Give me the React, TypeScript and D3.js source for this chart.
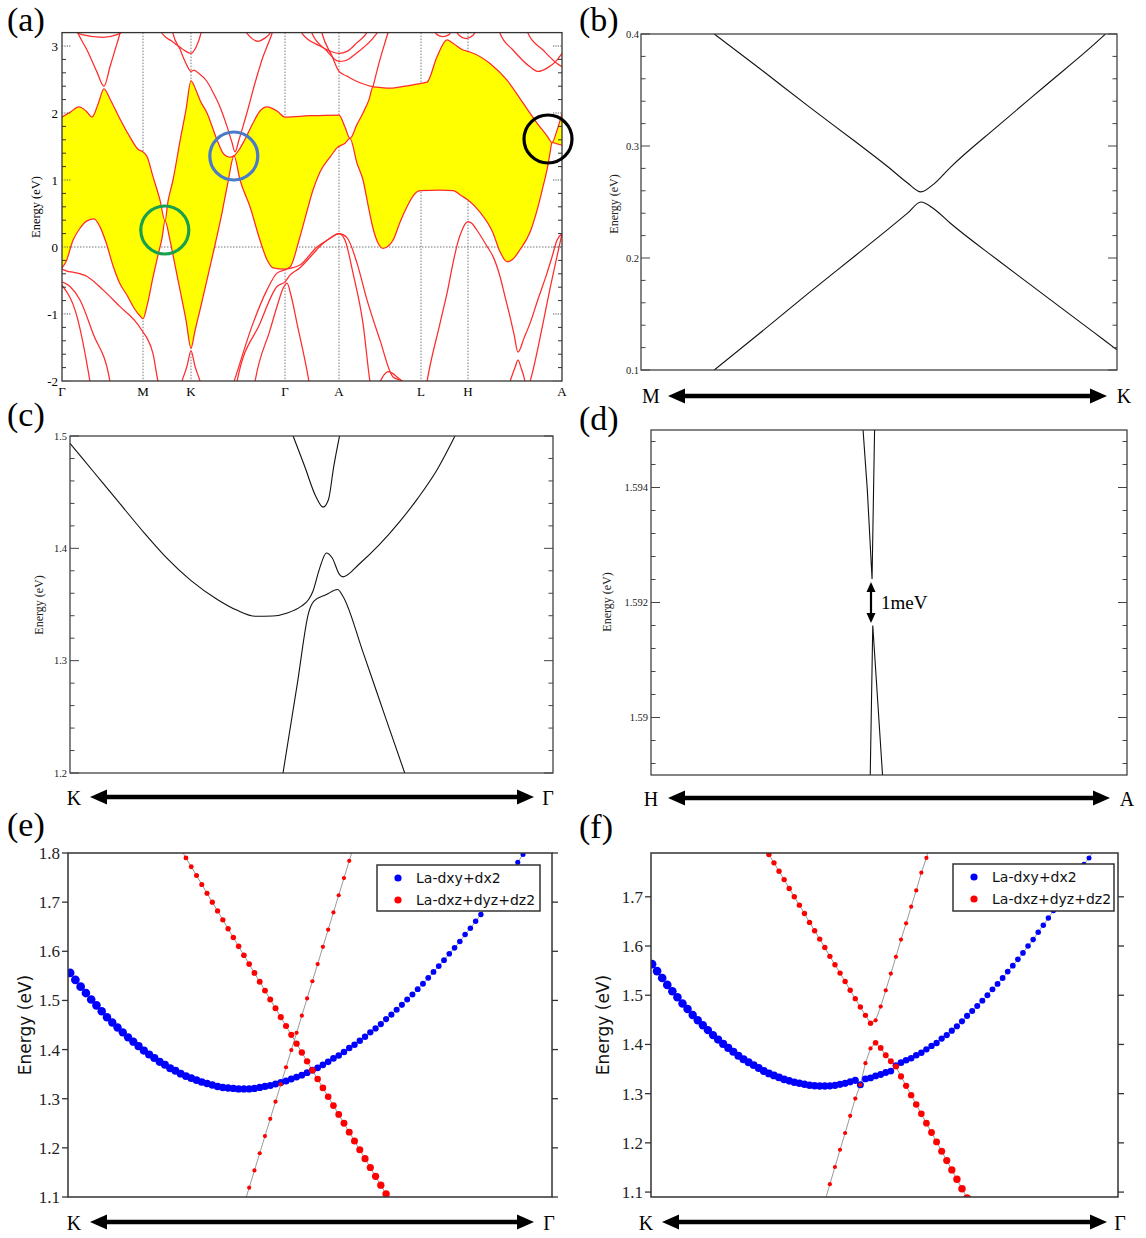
import React from "react";
import * as d3 from "d3";

type P = [number, number];

const SERIF = "'Liberation Serif','Times New Roman',Times,serif";
const SANS = "'DejaVu Sans','Liberation Sans',sans-serif";

// ---------------- Panel (a): band structure along the path ----------------
const aKpts = [0, 81, 129, 223, 277, 359, 406, 500];
const aKlabels = ["Γ", "M", "K", "Γ", "A", "L", "H", "A"];
const aYticks = [-2, -1, 0, 1, 2, 3];

const aUpper: P[] = [
  [0, 1.94], [8, 2.01], [17, 2.09], [24, 2.03], [30, 1.94], [36, 2.13], [42, 2.36], [48, 2.21],
  [58, 1.91], [68, 1.64], [76, 1.46], [81, 1.42], [85, 1.35], [91, 1.05], [98, 0.7], [103, 0.39],
  [106, 0.68], [111, 1.0], [118, 1.58], [124, 2.05], [129, 2.48], [134, 2.34], [138, 2.19], [145, 2.0],
  [155, 1.6], [161, 1.4], [165, 1.35], [168, 1.34], [172, 1.36], [177, 1.45], [181, 1.55], [186, 1.7],
  [191, 1.85], [198, 2.03], [205, 2.09], [210, 2.07], [215, 2.03], [223, 1.94], [248, 1.96], [277, 1.97],
  [283, 1.79], [288, 1.62], [295, 1.83], [301, 2.0], [307, 2.2], [311, 2.39], [328, 2.37], [343, 2.4],
  [358, 2.44], [365, 2.46], [375, 2.84], [385, 3.09], [391, 3.04], [401, 2.94], [408, 2.91], [428, 2.74],
  [445, 2.49], [461, 2.15], [475, 1.85], [485, 1.66], [490, 1.56], [495, 1.74], [500, 1.99],
];

const aLower: P[] = [
  [0, -0.31], [4, -0.22], [11, 0.1], [18, 0.28], [25, 0.39], [32, 0.42], [38, 0.3], [44, 0.07],
  [51, -0.28], [58, -0.55], [65, -0.72], [72, -0.91], [78, -1.03], [81, -1.07], [85, -0.88], [91, -0.45],
  [96, -0.12], [100, 0.13], [103, 0.39], [108, 0.1], [113, -0.27], [118, -0.64], [124, -1.09], [129, -1.51],
  [133, -1.25], [138, -0.94], [145, -0.49], [153, 0.03], [160, 0.51], [166, 0.97], [172, 1.36], [178, 1.0],
  [188, 0.6], [198, 0.1], [205, -0.19], [211, -0.31], [223, -0.33], [228, -0.3], [237, 0.1], [244, 0.48],
  [251, 0.85], [258, 1.12], [268, 1.34], [275, 1.48], [283, 1.55], [288, 1.62], [295, 1.25], [301, 1.0],
  [306, 0.63], [311, 0.28], [316, 0.06], [321, -0.02], [326, 0.01], [331, 0.1], [338, 0.37], [345, 0.6],
  [351, 0.76], [358, 0.84], [378, 0.85], [391, 0.84], [400, 0.76], [406, 0.7], [418, 0.52], [431, 0.21],
  [438, -0.07], [445, -0.22], [451, -0.18], [458, -0.04], [468, 0.22], [476, 0.6], [481, 0.9], [485, 1.15],
  [488, 1.4], [490, 1.56], [495, 1.54], [500, 1.52],
];

const aBands: P[][] = [
  [[8, 3.26], [20, 3.17], [41, 3.13], [55, 3.17], [66, 3.26]],
  [[14, 3.26], [16, 3.19], [25, 2.94], [35, 2.61], [42, 2.4], [48, 2.69], [53, 2.94], [58, 3.19], [59, 3.25]],
  [[99, 3.25], [100, 3.19], [110, 3.07], [120, 2.96], [129, 2.89], [134, 2.98], [139, 3.19], [140, 3.25]],
  [[110, 3.26], [111, 3.19], [118, 2.95], [124, 2.74], [129, 2.62], [132, 2.64], [136, 2.6], [145, 2.47],
   [152, 2.28], [158, 2.09], [165, 1.8], [170, 1.56], [173, 1.42], [177, 1.6], [181, 1.8], [186, 2.06],
   [191, 2.34], [196, 2.6], [201, 2.84], [206, 3.03], [210, 3.19], [211, 3.25]],
  [[182, 3.25], [185, 3.19], [190, 3.11], [196, 3.07], [202, 3.11], [208, 3.19], [210, 3.25]],
  [[0, -0.33], [5, -0.36], [12, -0.38], [25, -0.44], [41, -0.64], [58, -0.89], [75, -1.14], [81, -1.27],
   [85, -1.36], [91, -1.59], [96, -2.0], [98, -2.1]],
  [[0, -0.52], [8, -0.59], [18, -0.79], [31, -1.29], [48, -2.01], [49, -2.1]],
  [[0, -0.57], [15, -1.04], [28, -2.01], [29, -2.1]],
  [[118, -2.1], [120, -2.0], [125, -1.78], [129, -1.55], [133, -1.78], [138, -2.0], [140, -2.1]],
  [[170, -2.1], [172, -2.01], [191, -1.14], [205, -0.64], [215, -0.39], [223, -0.34], [238, -0.27],
   [255, 0.0], [265, 0.1], [277, 0.2], [285, 0.14], [295, -0.24], [305, -0.79], [318, -1.39], [331, -1.94],
   [341, -2.01], [343, -2.1]],
  [[174, -2.1], [175, -2.01], [198, -1.14], [215, -0.59], [223, -0.52], [228, -0.42], [238, -0.31],
   [250, -0.12], [260, 0.04], [270, 0.15], [277, 0.2], [283, 0.1], [291, -0.39], [301, -1.14], [308, -2.01],
   [309, -2.1]],
  [[192, -2.1], [193, -2.01], [208, -1.24], [216, -0.84], [221, -0.62], [225, -0.54], [229, -0.72],
   [235, -1.14], [247, -2.01], [248, -2.1]],
  [[364, -2.1], [365, -2.01], [378, -1.14], [386, -0.62], [391, -0.24], [396, 0.08], [400, 0.25], [403, 0.34],
   [406, 0.38], [410, 0.35], [415, 0.25], [425, 0.01], [431, -0.14], [438, -0.44], [443, -0.74], [448, -1.04],
   [452, -1.3], [456, -1.57], [462, -1.36], [468, -1.14], [476, -0.78], [485, -0.39], [490, -0.15],
   [495, 0.1], [500, 0.2]],
  [[446, -2.1], [448, -2.01], [453, -1.8], [456, -1.69], [459, -1.8], [463, -2.01], [464, -2.1]],
  [[466, -2.1], [468, -2.01], [481, -1.14], [488, -0.62], [495, -0.14], [500, 0.2]],
  [[318, -2.01], [322, -1.91], [326, -1.86], [331, -1.89], [335, -1.94], [341, -2.01]],
  [[239, 3.25], [240, 3.19], [258, 3.0], [277, 2.89], [285, 2.92], [295, 3.05], [305, 3.2], [307, 3.25]],
  [[249, 3.25], [250, 3.19], [264, 2.94], [277, 2.77], [283, 2.78], [295, 2.9], [310, 3.1], [318, 3.25]],
  [[259, 3.25], [260, 3.19], [270, 2.85], [277, 2.62], [285, 2.55], [295, 2.47], [311, 2.39]],
  [[371, 3.25], [375, 3.17], [381, 3.14], [387, 3.17], [390, 3.25]],
  [[393, 3.25], [397, 3.16], [404, 3.11], [411, 3.16], [415, 3.25]],
  [[437, 3.25], [438, 3.19], [451, 2.94], [468, 2.69], [476, 2.62], [485, 2.67], [495, 2.79], [500, 2.89]],
  [[465, 3.25], [466, 3.19], [481, 2.94], [495, 2.74], [500, 2.69]],
  [[311, 2.39], [318, 2.8], [324, 3.1], [327, 3.25]],
];

const aCircles = [
  { k: 102.8, E: 0.254, color: "#19a04f" },
  { k: 171.8, E: 1.358, color: "#4a7bc8" },
  { k: 486, E: 1.612, color: "#000000" },
];

// ---------------- Panel (b): M -> K zoom ----------------
const bYticks = [0.1, 0.2, 0.3, 0.4];
const bUpper: P[] = [
  [0.154, 0.4], [0.25, 0.369], [0.35, 0.336], [0.45, 0.304], [0.52, 0.281], [0.56, 0.267], [0.588, 0.259],
  [0.615, 0.266], [0.65, 0.281], [0.75, 0.318], [0.85, 0.354], [0.95, 0.39], [0.976, 0.4],
];
const bLower: P[] = [
  [0.154, 0.1], [0.25, 0.133], [0.35, 0.168], [0.45, 0.202], [0.52, 0.226], [0.56, 0.24], [0.588, 0.25],
  [0.615, 0.244], [0.65, 0.231], [0.75, 0.198], [0.85, 0.166], [0.95, 0.134], [1.0, 0.118],
];

// ---------------- Panel (c): K -> Γ zoom ----------------
const cYticks = [1.2, 1.3, 1.4, 1.5];
const cBand1: P[] = [
  [0, 1.4935], [0.05, 1.4675], [0.1, 1.4415], [0.154, 1.4136], [0.2, 1.3915], [0.25, 1.3715],
  [0.305, 1.3545], [0.345, 1.345], [0.384, 1.3395], [0.42, 1.3398], [0.45, 1.3425], [0.479, 1.3485],
  [0.494, 1.3544], [0.503, 1.3618], [0.516, 1.3811], [0.531, 1.3959], [0.543, 1.3914], [0.558, 1.3766],
  [0.565, 1.3746], [0.6, 1.3865], [0.64, 1.403], [0.683, 1.424], [0.72, 1.4445], [0.76, 1.47], [0.797, 1.5],
];
const cBand2: P[] = [
  [0.462, 1.5], [0.486, 1.4728], [0.509, 1.4462], [0.524, 1.4367], [0.535, 1.4432], [0.546, 1.4728], [0.558, 1.5],
];
const cBand3: P[] = [
  [0.441, 1.2], [0.471, 1.2805], [0.494, 1.3426], [0.505, 1.353], [0.531, 1.3589], [0.554, 1.3633],
  [0.565, 1.3574], [0.607, 1.3071], [0.652, 1.2509], [0.693, 1.2],
];

// ---------------- Panel (d): H -> A zoom ----------------
const dYticks = [1.59, 1.592, 1.594];
const dYlabels = ["1.59", "1.592", "1.594"];
const dUpper: P[] = [[0.4455, 1.595], [0.4545, 1.59395], [0.4644, 1.59241], [0.4697, 1.595]];
const dLower: P[] = [[0.4606, 1.589], [0.4659, 1.5916], [0.4864, 1.589]];

// ---------------- Panels (e), (f): orbital-projected bands ----------------
const eYticks = [1.1, 1.2, 1.3, 1.4, 1.5, 1.6, 1.7, 1.8];
const fYticks = [1.1, 1.2, 1.3, 1.4, 1.5, 1.6, 1.7];
const legendNames = ["La-dxy+dx2", "La-dxz+dyz+dz2"];

const eBlueStart = 0;
const eBlue = [
  1.556, 1.542, 1.528, 1.515, 1.502, 1.49, 1.478, 1.466, 1.455, 1.445, 1.435, 1.425, 1.416, 1.407, 1.398,
  1.39, 1.383, 1.375, 1.369, 1.362, 1.357, 1.351, 1.346, 1.342, 1.338, 1.334, 1.331, 1.328, 1.325, 1.323,
  1.322, 1.321, 1.32, 1.32, 1.32, 1.321, 1.323, 1.325, 1.327, 1.33, 1.333, 1.336, 1.34, 1.344, 1.348, 1.353,
  1.358, 1.363, 1.369, 1.375, 1.382, 1.388, 1.395, 1.403, 1.41, 1.418, 1.426, 1.435, 1.443, 1.452, 1.462,
  1.471, 1.481, 1.491, 1.502, 1.512, 1.523, 1.534, 1.546, 1.558, 1.57, 1.582, 1.595, 1.607, 1.62, 1.634,
  1.647, 1.661, 1.675, 1.69, 1.704, 1.719, 1.734, 1.75, 1.765, 1.781, 1.797, 1.813,
];
const eRedAStart = 21;
const eRedA = [
  1.808, 1.79, 1.772, 1.754, 1.736, 1.718, 1.7, 1.682, 1.664, 1.646, 1.628, 1.61, 1.592, 1.574, 1.556, 1.538,
  1.52, 1.502, 1.484, 1.466, 1.448, 1.43, 1.412, 1.394, 1.376, 1.358, 1.34, 1.322, 1.304, 1.286, 1.268, 1.25,
  1.232, 1.214, 1.196, 1.178, 1.16, 1.142, 1.124, 1.106, 1.088,
];
const eRedBStart = 33;
const eRedB = [
  1.084, 1.119, 1.154, 1.189, 1.224, 1.259, 1.294, 1.329, 1.364, 1.399, 1.434, 1.469, 1.504, 1.539, 1.574,
  1.609, 1.644, 1.679, 1.714, 1.749, 1.784, 1.819,
];

const fBlueStart = 0;
const fBlue = [
  1.563, 1.549, 1.535, 1.521, 1.508, 1.496, 1.483, 1.472, 1.46, 1.449, 1.439, 1.429, 1.419, 1.41, 1.401,
  1.393, 1.385, 1.377, 1.37, 1.364, 1.358, 1.352, 1.346, 1.341, 1.337, 1.333, 1.329, 1.326, 1.323, 1.321,
  1.319, 1.317, 1.316, 1.3155, 1.3155, 1.316, 1.317, 1.319, 1.321, 1.324, 1.327, 1.318, 1.33, 1.332, 1.336,
  1.339, 1.343, 1.346, 1.357, 1.363, 1.368, 1.372, 1.378, 1.383, 1.39, 1.397, 1.403, 1.412, 1.419, 1.428,
  1.437, 1.447, 1.458, 1.468, 1.478, 1.489, 1.5, 1.512, 1.523, 1.535, 1.548, 1.56, 1.573, 1.586, 1.6, 1.613,
  1.628, 1.642, 1.657, 1.672, 1.687, 1.703, 1.718, 1.734, 1.75, 1.766, 1.779, 1.795,
];
const fRedAStart = 22;
const fRedA = [
  1.803, 1.786, 1.769, 1.752, 1.735, 1.717, 1.7, 1.683, 1.666, 1.648, 1.631, 1.614, 1.597, 1.579, 1.562,
  1.545, 1.528, 1.51, 1.493, 1.476, 1.459, 1.443, 1.449, 1.477, 1.51, 1.544, 1.578, 1.613, 1.646, 1.68,
  1.713, 1.749, 1.779, 1.812,
];
const fRedBStart = 34;
const fRedB = [
  1.081, 1.116, 1.151, 1.186, 1.22, 1.255, 1.29, 1.318, 1.362, 1.392, 1.4035, 1.393, 1.378, 1.366, 1.355,
  1.335, 1.316, 1.297, 1.278, 1.259, 1.24, 1.221, 1.202, 1.183, 1.164, 1.145, 1.126, 1.107, 1.088,
];

// ---------------- helpers ----------------
function DoubleArrowH({ x1, x2, y }: { x1: number; x2: number; y: number }) {
  const L = 17, h = 7.5;
  return (
    <g>
      <line x1={x1 + L - 3} x2={x2 - L + 3} y1={y} y2={y} stroke="#000" strokeWidth={4.5} />
      <polygon points={`${x1},${y} ${x1 + L},${y - h} ${x1 + L},${y + h}`} fill="#000" />
      <polygon points={`${x2},${y} ${x2 - L},${y - h} ${x2 - L},${y + h}`} fill="#000" />
    </g>
  );
}

function PathLabels({ left, right, xl, xr, y, ay, arrowL, arrowR }: any) {
  return (
    <g fontFamily={SERIF} fontSize={20}>
      <text x={xl} y={y} textAnchor="middle">{left}</text>
      <text x={xr} y={y} textAnchor="middle">{right}</text>
      <DoubleArrowH x1={arrowL} x2={arrowR} y={ay} />
    </g>
  );
}

function PanelA() {
  const l = 62, r = 562, t = 32.6, b = 381;
  const x = d3.scaleLinear().domain([0, 500]).range([l, r]);
  const y = d3.scaleLinear().domain([-2, 3.2]).range([b, t]);
  const line = d3.line<P>().x((d) => x(d[0])).y((d) => y(d[1])).curve(d3.curveMonotoneX);
  const up = line(aUpper) as string;
  const lo = line(aLower.slice().reverse()) as string;
  const fill = up + "L" + lo.slice(1) + "Z";
  const minors = d3.range(26).map((j) => -2 + 0.2 * j).filter((v) => Math.abs(v - Math.round(v)) > 1e-6);
  const red = "#ff2b2b";
  return (
    <g>
      <defs>
        <clipPath id="clipA"><rect x={l} y={t} width={r - l} height={b - t} /></clipPath>
      </defs>
      <g clipPath="url(#clipA)">
        {aKpts.slice(1, -1).map((k, i) => (
          <line key={i} x1={x(k)} x2={x(k)} y1={t} y2={b} stroke="#777" strokeWidth={1} strokeDasharray="1.5,1.5" />
        ))}
        <line x1={l} x2={r} y1={y(0)} y2={y(0)} stroke="#777" strokeWidth={1} strokeDasharray="1.5,1.5" />
        <path d={fill} fill="#ffff00" stroke="none" />
        <path d={up} fill="none" stroke={red} strokeWidth={1.25} />
        <path d={line(aLower) as string} fill="none" stroke={red} strokeWidth={1.25} />
        {aBands.map((bd, i) => (
          <path key={i} d={line(bd) as string} fill="none" stroke={red} strokeWidth={1.25} />
        ))}
      </g>
      <rect x={l} y={t} width={r - l} height={b - t} fill="none" stroke="#333" strokeWidth={1.3} />
      {minors.map((v, i) => (
        <g key={i}>
          <line x1={l} x2={l + 4} y1={y(v)} y2={y(v)} stroke="#333" strokeWidth={1} />
          <line x1={r - 4} x2={r} y1={y(v)} y2={y(v)} stroke="#333" strokeWidth={1} />
        </g>
      ))}
      {aYticks.map((v, i) => (
        <g key={i}>
          <line x1={l} x2={l + 9} y1={y(v)} y2={y(v)} stroke="#555" strokeWidth={1} strokeDasharray="1.2,1.2" />
          <line x1={r - 9} x2={r} y1={y(v)} y2={y(v)} stroke="#555" strokeWidth={1} strokeDasharray="1.2,1.2" />
          <text x={58} y={y(v)} dy="0.35em" textAnchor="end" fontFamily={SERIF} fontSize={13}>{v}</text>
        </g>
      ))}
      {aKpts.map((k, i) => (
        <text key={i} x={x(k)} y={396} textAnchor="middle" fontFamily={SERIF} fontSize={13}>{aKlabels[i]}</text>
      ))}
      <text transform={`translate(40,207) rotate(-90)`} textAnchor="middle" fontFamily={SERIF} fontSize={12.5}>Energy (eV)</text>
      {aCircles.map((c, i) => (
        <circle key={i} cx={x(c.k)} cy={y(c.E)} r={24} fill="none" stroke={c.color} strokeWidth={3.2} />
      ))}
    </g>
  );
}

function SimplePanel(p: any) {
  const x = d3.scaleLinear().domain(p.xDom).range([p.l, p.r]);
  const y = d3.scaleLinear().domain(p.yDom).range([p.b, p.t]);
  const line = d3.line<P>().x((d) => x(d[0])).y((d) => y(d[1])).curve(p.curve);
  return (
    <g>
      <defs>
        <clipPath id={p.id}><rect x={p.l} y={p.t} width={p.r - p.l} height={p.b - p.t} /></clipPath>
      </defs>
      <g clipPath={`url(#${p.id})`}>
        {p.curves.map((c: P[], i: number) => (
          <path key={i} d={line(c) as string} fill="none" stroke="#111" strokeWidth={1.1} />
        ))}
      </g>
      <rect x={p.l} y={p.t} width={p.r - p.l} height={p.b - p.t} fill="none" stroke="#333" strokeWidth={1.2} />
      {p.ticks.map((v: number, i: number) => {
        const major = p.majors.some((m: number) => Math.abs(m - v) < 1e-7);
        const len = major ? 9 : 4.5;
        const yy = y(v);
        return (
          <g key={i}>
            <line x1={p.l} x2={p.l + len} y1={yy} y2={yy} stroke="#444" strokeWidth={1} />
            <line x1={p.r - len} x2={p.r} y1={yy} y2={yy} stroke="#444" strokeWidth={1} />
          </g>
        );
      })}
      {p.majors.map((v: number, i: number) => (
        <text key={i} x={p.labelEnd} y={y(v)} dy="0.35em" textAnchor="end" fontFamily={SERIF} fontSize={10.5} fill="#222">
          {p.labels[i]}
        </text>
      ))}
      <text transform={`translate(${p.ylab[0]},${p.ylab[1]}) rotate(-90)`} textAnchor="middle" fontFamily={SERIF} fontSize={12} fill="#222">
        Energy (eV)
      </text>
    </g>
  );
}

function FatPanel(p: any) {
  const x = d3.scaleLinear().domain(p.xDom).range([p.l, p.r]);
  const y = d3.scaleLinear().domain(p.yDom).range([p.b, p.t]);
  const g = d3.line<P>().x((d) => d[0]).y((d) => d[1]);
  return (
    <g>
      <defs>
        <clipPath id={p.id}><rect x={p.l} y={p.t} width={p.r - p.l} height={p.b - p.t} /></clipPath>
      </defs>
      <g clipPath={`url(#${p.id})`}>
        {p.bands.map((bd: any, bi: number) => {
          const pts: P[] = bd.values.map((v: number, j: number) => [x(bd.start + j), y(v)] as P);
          return <path key={"l" + bi} d={g(pts) as string} fill="none" stroke="#9a9a9a" strokeWidth={1} />;
        })}
        {p.bands.map((bd: any, bi: number) => (
          <g key={"d" + bi}>
            {bd.values.map((v: number, j: number) => {
              const idx = bd.start + j;
              if (v < p.yDom[0] - 0.005 || v > p.yDom[1] + 0.005) return null;
              return <circle key={j} cx={x(idx)} cy={y(v)} r={bd.rFn(idx)} fill={bd.color} />;
            })}
          </g>
        ))}
      </g>
      <rect x={p.l} y={p.t} width={p.r - p.l} height={p.b - p.t} fill="none" stroke="#333" strokeWidth={1.5} />
      {p.ticks.map((v: number, i: number) => (
        <g key={i}>
          <line x1={p.l - 6} x2={p.l} y1={y(v)} y2={y(v)} stroke="#333" strokeWidth={1.3} />
          <line x1={p.r} x2={p.r + 6} y1={y(v)} y2={y(v)} stroke="#333" strokeWidth={1.3} />
          <text x={p.l - 8} y={y(v)} dy="0.35em" textAnchor="end" fontFamily={SERIF} fontSize={17} fill="#222">
            {v.toFixed(1)}
          </text>
        </g>
      ))}
      <text transform={`translate(${p.ylab[0]},${p.ylab[1]}) rotate(-90)`} textAnchor="middle" fontFamily={SANS} fontSize={17} fill="#111">
        Energy (eV)
      </text>
      <g>
        <rect x={p.leg[0]} y={p.leg[1]} width={p.leg[2]} height={p.leg[3]} fill="#fff" stroke="#333" strokeWidth={1.5} />
        {legendNames.map((nm, i) => (
          <g key={i}>
            <circle cx={p.leg[0] + 21} cy={p.leg[1] + 13 + 22 * i} r={3.6} fill={i === 0 ? "#0000ff" : "#ff0000"} />
            <text x={p.leg[0] + 39} y={p.leg[1] + 13 + 22 * i} dy="0.36em" fontFamily={SANS} fontSize={14} fill="#111">{nm}</text>
          </g>
        ))}
      </g>
    </g>
  );
}

export default function App() {
  const bTicks = d3.range(16).map((j) => 0.1 + 0.02 * j);
  const cTicks = d3.range(16).map((j) => 1.2 + 0.02 * j);
  const dTicks = d3.range(15).map((j) => 1.5892 + 0.0004 * j);

  const blueR = d3.scaleLinear().domain([0, 87]).range([4.4, 2.5]);
  const eDescR = d3.scaleLinear().domain([21, 60]).range([2.4, 3.7]);
  const fLegR = d3.scaleLinear().domain([44, 62]).range([2.8, 3.8]);

  const eBands = [
    { start: eBlueStart, values: eBlue, color: "#0000ff", rFn: (i: number) => blueR(i) },
    { start: eRedAStart, values: eRedA, color: "#ff0000", rFn: (i: number) => eDescR(i) },
    { start: eRedBStart, values: eRedB, color: "#ff0000", rFn: () => 2.1 },
  ];
  const fBands = [
    { start: fBlueStart, values: fBlue, color: "#0000ff", rFn: (i: number) => blueR(i) },
    { start: fRedAStart, values: fRedA, color: "#ff0000", rFn: (i: number) => (i <= 43 ? 2.7 : 2.1) },
    { start: fRedBStart, values: fRedB, color: "#ff0000", rFn: (i: number) => (i <= 43 ? 2.1 : fLegR(i)) },
  ];

  return (
    <svg width={1146} height={1238} viewBox="0 0 1146 1238" style={{ position: "absolute", left: 0, top: 0 }}>
      <rect width={1146} height={1238} fill="#fff" />
      <PanelA />

      <SimplePanel id="clipB" l={641} r={1117} t={34} b={370} xDom={[0, 1]} yDom={[0.1, 0.4]}
        ticks={bTicks} majors={bYticks} labels={["0.1", "0.2", "0.3", "0.4"]} labelEnd={639}
        curves={[bUpper, bLower]} curve={d3.curveMonotoneX} ylab={[618, 204]} />
      <PathLabels left="M" right="K" xl={651} xr={1124} y={403} ay={396} arrowL={668} arrowR={1107} />

      <SimplePanel id="clipC" l={70} r={553} t={436} b={773} xDom={[0, 1]} yDom={[1.2, 1.5]}
        ticks={cTicks} majors={cYticks} labels={["1.2", "1.3", "1.4", "1.5"]} labelEnd={67}
        curves={[cBand1, cBand2, cBand3]} curve={d3.curveMonotoneX} ylab={[43, 605]} />
      <PathLabels left="K" right="Γ" xl={74} xr={548} y={805} ay={797} arrowL={90} arrowR={534} />

      <SimplePanel id="clipD" l={651} r={1127} t={430} b={775} xDom={[0, 1]} yDom={[1.589, 1.595]}
        ticks={dTicks} majors={dYticks} labels={dYlabels} labelEnd={648}
        curves={[dUpper, dLower]} curve={d3.curveLinear} ylab={[611, 602]} />
      <PathLabels left="H" right="A" xl={651} xr={1127} y={806} ay={798} arrowL={668} arrowR={1110} />
      <g>
        <line x1={871} x2={871} y1={588} y2={617} stroke="#000" strokeWidth={2.2} />
        <polygon points="871,582 866.5,592 875.5,592" fill="#000" />
        <polygon points="871,623 866.5,613 875.5,613" fill="#000" />
        <text x={881} y={609} fontFamily={SERIF} fontSize={19}>1meV</text>
      </g>

      <FatPanel id="clipE" l={68} r={552} t={853} b={1197} xDom={[-0.4, 91.5]} yDom={[1.1, 1.8]}
        ticks={eYticks} bands={eBands} ylab={[31, 1025]} leg={[377, 865, 163, 46]} />
      <PathLabels left="K" right="Γ" xl={74} xr={549} y={1230} ay={1222} arrowL={90} arrowR={534} />

      <FatPanel id="clipF" l={651} r={1118} t={853} b={1197} xDom={[-0.2, 91.7]} yDom={[1.09, 1.789]}
        ticks={fYticks} bands={fBands} ylab={[609, 1025]} leg={[953, 864, 161, 47]} />
      <PathLabels left="K" right="Γ" xl={646} xr={1120} y={1230} ay={1222} arrowL={662} arrowR={1107} />

      <g fontFamily={SERIF} fontSize={34}>
        <text x={7} y={31}>(a)</text>
        <text x={579} y={31}>(b)</text>
        <text x={7} y={426}>(c)</text>
        <text x={579} y={430}>(d)</text>
        <text x={7} y={836}>(e)</text>
        <text x={579} y={838}>(f)</text>
      </g>
    </svg>
  );
}
